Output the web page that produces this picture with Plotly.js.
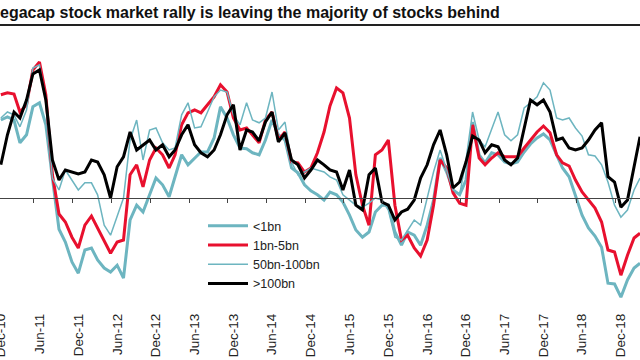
<!DOCTYPE html>
<html><head><meta charset="utf-8">
<script src="https://cdn.plot.ly/plotly-3.0.1.min.js"></script>
<style>html,body{margin:0;padding:0;background:#fff}#chart{width:640px;height:360px}</style>
</head><body><div id="chart"></div>
<script>
// Monthly observations, Dec-2010 .. Mar-2019
const firstYear = 2010, firstMonth = 12, monthCount = 100;
const months = [];
for (let i = 0; i < monthCount; i++) {
  const t = firstMonth - 1 + i;
  months.push((firstYear + Math.floor(t / 12)) + '-' + String(t % 12 + 1).padStart(2, '0') + '-01');
}

const seriesNames = ['<1bn', '1bn-5bn', '50bn-100bn', '>100bn'];

const below1bn = [
  19.5, 20.3, 19.5, 13.8, 15.8, 22.8, 23.8, 18.3, 5, -7.8,
  -11, -16, -18.8, -13, -12.5, -15.5, -17.5, -18.5, -16.8, -20,
  -5.5, -1.8, -3.5, 0.8, 5, 3.3, 0.3, 5.3, 10.8, 8.3,
  10, 11.5, 11.5, 15, 22.8, 20, 15.8, 12.5, 12.3, 11.3,
  10.8, 14.5, 19.5, 15.8, 14.5, 7.5, 6.3, 3.3, 1.8, 0.8,
  -0.5, 1.5, 0.8, -1, -4.3, -8, -9.8, -8.5, -3.5, -1.8,
  -1.8, -8.5, -11.8, -8.5, -9.3, -11.8, -6.8, -0.5, 10, 6.5,
  2, 0.8, 4.5, 19, 10.8, 8.8, 11.3, 10.8, 9, 8.5,
  9, 11.5, 13.5, 15, 16, 14.5, 10.8, 7.5, 5.3, 0.8,
  -4.3, -7.5, -9.5, -12.3, -21.3, -21.5, -24.8, -20.5, -17.5, -16.3
];
const from1to5bn = [
  25.8, 26.3, 26, 21.5, 23.3, 32, 34, 25.8, 5.8, -4,
  -6, -9.8, -12.5, -6.8, -4.5, -7.5, -11, -13.8, -11, -10.5,
  5.8, 8.3, 2.8, 9.5, 12.5, 10.8, 7.5, 10.8, 18.3, 21.3,
  22, 21.3, 23.3, 25.3, 28.3, 26.5, 20, 17, 17.5, 15.8,
  13.8, 19.5, 21.5, 14.5, 16.5, 9, 8.8, 6.5, 7.5, 11.3,
  16.5, 23, 27.5, 26.3, 20, 5.8, -1.8, -6.8, 10.8, 12,
  14.5, -1.8, -10.5, -9.3, -12.5, -14.5, -10.5, -1.8, 9.5, 7.5,
  1.3, -1.3, -1.8, 18.3, 10, 8.3, 10, 11.3, 10.3, 10.3,
  10.3, 12.5, 14.5, 16.5, 18, 16.3, 10.8, 8.8, 8, 4.5,
  1.5, -0.5, -2.5, -6, -13, -13.5, -19.3, -14.3, -10, -8.8
];
const from50to100bn = [
  20, 21.5, 20.8, 17.8, 22, 32.5, 33.3, 24.5, 5, 2,
  7, 4.5, 2, 3.8, 3.8, 0.8, -6.8, -9.3, -4.3, 0,
  14.5, 19.5, 9.5, 17, 17.5, 13.8, 12, 12.5, 20.8, 23.8,
  17.5, 17.8, 21.5, 25.3, 27, 26.5, 20.8, 18.3, 23.8, 19.5,
  18.8, 20, 26.5, 17, 19, 9, 5.8, 6.5, 7.5, 7,
  6.5, 5.3, 4.5, 0.8, -0.5, -1.8, -2.3, -1.3, 0, -0.5,
  -3, -9.8, -10.5, -8, -5.5, -6.8, 0.3, 6.5, 12, 7,
  2, 0.8, 9.5, 21.5, 14.5, 12.8, 17, 21.5, 15.8, 14.3,
  15.8, 22.5, 23.8, 25.3, 28.8, 27, 20, 19.5, 20, 17.5,
  15.5, 10.8, 10.5, 8.3, 4, -1.8, -4.8, -3, 2, 5
];
const above100bn = [
  8.3, 15.8, 21.5, 20, 24.5, 31, 32, 24.5, 9.5, 4.5,
  7, 6.5, 6, 6.5, 9.5, 9, 5.8, 0, 7.8, 10.3,
  16.5, 12, 13.3, 14.5, 12, 13.3, 10.3, 12, 15.8, 18.3,
  13.3, 11.3, 10.3, 12, 15.8, 20.8, 23.3, 12, 17, 16.5,
  14.3, 19, 21.5, 14, 16.3, 9.5, 8.3, 5, 7, 9.5,
  8.3, 7, 6.5, 2, 7, -1.8, -3, 5.8, 7.5, -1,
  -1.8, -5.5, -3.5, -2.8, -0.5, 5, 8.3, 13.3, 17, 10.8,
  2.5, 4, 9, 15.5, 14.5, 11.3, 13.3, 12.8, 9.5, 8.3,
  10, 17.5, 24.5, 23.3, 24.5, 21.5, 14.5, 15, 12.5, 12,
  12.5, 14.5, 17, 18.8, 5.3, 4, -2.3, -0.5, 8.3, 15.3
];

const tickDates = ['2010-12-01','2011-06-01','2011-12-01','2012-06-01','2012-12-01','2013-06-01',
  '2013-12-01','2014-06-01','2014-12-01','2015-06-01','2015-12-01','2016-06-01','2016-12-01',
  '2017-06-01','2017-12-01','2018-06-01','2018-12-01'];
const tickLabels = ['Dec-10','Jun-11','Dec-11','Jun-12','Dec-12','Jun-13','Dec-13','Jun-14','Dec-14',
  'Jun-15','Dec-15','Jun-16','Dec-16','Jun-17','Dec-17','Jun-18','Dec-18'];

// Title as it appears in the (left-cropped) reference
const titleText = 'egacap stock market rally is leaving the majority of stocks behind';

const TEAL = '#6db5c0', RED = '#e8102e', BLACK = '#000000';
const FONT = 'Liberation Sans, Arial, Helvetica, sans-serif';

const traces = [
  {x: months, y: below1bn, name: seriesNames[0], mode: 'lines', line: {color: TEAL, width: 3}},
  {x: months, y: from1to5bn, name: seriesNames[1], mode: 'lines', line: {color: RED, width: 3}},
  {x: months, y: from50to100bn, name: seriesNames[2], mode: 'lines', line: {color: TEAL, width: 1.5}},
  {x: months, y: above100bn, name: seriesNames[3], mode: 'lines', line: {color: BLACK, width: 3}},
  {x: [months[0]], y: [null], xaxis: 'x2', yaxis: 'y', showlegend: false, hoverinfo: 'skip', mode: 'lines'}
];

const yMin = -26.75, yMax = 42;
const xRange = ['2010-11-27', '2019-03-01'];
const tickMarkDates = tickDates.map(d => {
  const t = new Date(d + 'T00:00:00Z'); t.setUTCDate(t.getUTCDate() - 26);
  return t.toISOString().slice(0, 10);
});

const plotTop = 30, plotBottom = 305;
const toPaperY = px => (plotBottom - px) / (plotBottom - plotTop);

const layout = {
  width: 640, height: 360,
  margin: {l: 0, r: 0, t: plotTop, b: 360 - plotBottom, pad: 0},
  paper_bgcolor: '#ffffff', plot_bgcolor: '#ffffff',
  showlegend: true,
  legend: {x: 203 / 640, xanchor: 'left', y: toPaperY(211), yanchor: 'top', itemwidth: 40,
    font: {family: FONT, size: 12.5, color: '#222'}, bgcolor: 'rgba(0,0,0,0)', borderwidth: 0},
  xaxis: {type: 'date', range: xRange, tickmode: 'array', tickvals: tickDates, ticktext: tickLabels,
    tickangle: -90, ticks: '', showline: false, showgrid: false, zeroline: false, ticklabeloverflow: 'allow',
    tickfont: {family: FONT, size: 13.5, color: '#222'}, ticklabelstandoff: 5, automargin: false, fixedrange: true},
  xaxis2: {type: 'date', overlaying: 'x', anchor: 'free', position: (0 - yMin) / (yMax - yMin), side: 'bottom',
    range: xRange, tickmode: 'array', tickvals: tickMarkDates, ticks: 'outside', ticklen: 4, tickwidth: 1,
    tickcolor: '#444', showticklabels: false, showline: true, linecolor: '#444', linewidth: 1,
    showgrid: false, zeroline: false, automargin: false, fixedrange: true},
  yaxis: {range: [yMin, yMax], visible: false, showgrid: false, zeroline: false, fixedrange: true},
  annotations: [{
    text: '<b>' + titleText + '</b>', xref: 'paper', yref: 'paper', x: -2 / 640, xanchor: 'left',
    y: toPaperY(12), yanchor: 'middle', showarrow: false, font: {family: FONT, size: 16, color: '#111'}
  }],
  shapes: [{type: 'line', xref: 'paper', yref: 'paper', x0: 0, x1: 1, y0: toPaperY(25), y1: toPaperY(25),
    line: {color: '#222', width: 2}}]
};

Plotly.newPlot('chart', traces, layout, {displayModeBar: false, staticPlot: true});
</script>
</body></html>
